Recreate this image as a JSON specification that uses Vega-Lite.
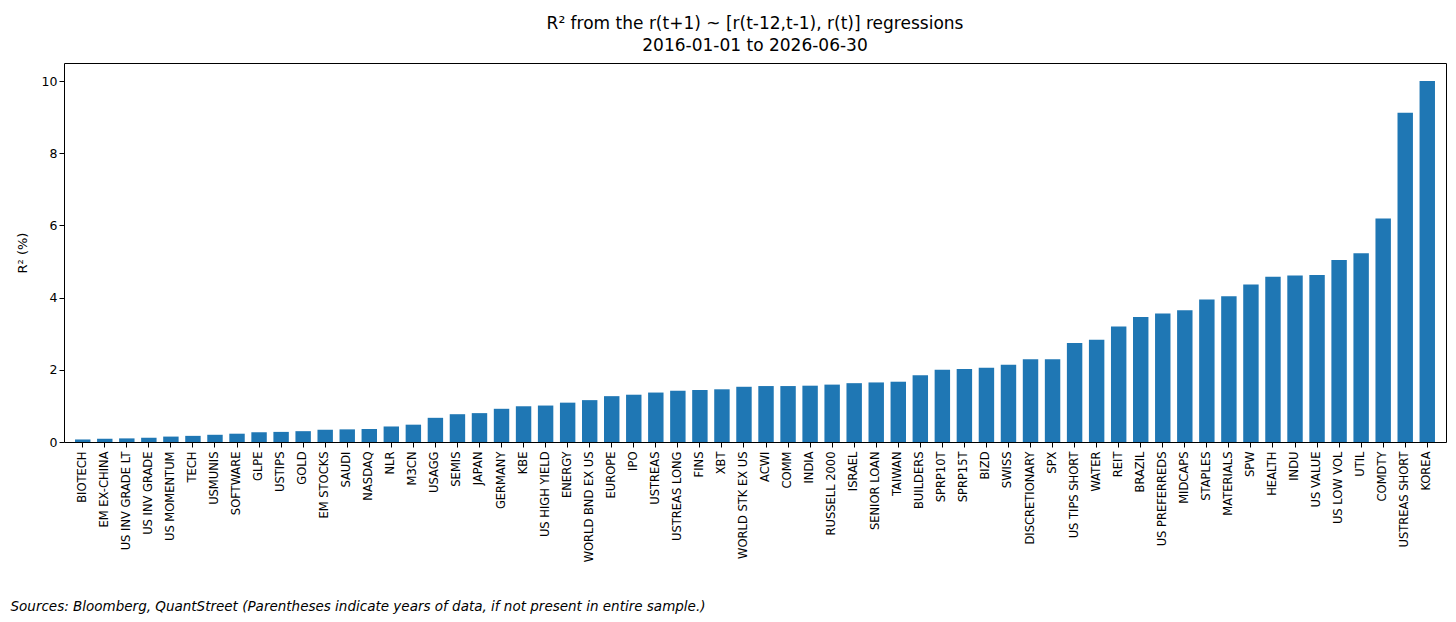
{
  "$schema": "https://vega.github.io/schema/vega-lite/v6.json",
  "width": 1382,
  "height": 379,
  "autosize": "none",
  "padding": {"left": 64, "top": 63, "right": 10, "bottom": 180},
  "background": "white",
  "config": {
    "font": "DejaVu Sans",
    "view": {"stroke": "black", "strokeWidth": 1},
    "axis": {"domain": false, "grid": false, "tickColor": "black", "labelColor": "black", "titleColor": "black", "titleFontWeight": "normal"}
  },
  "title": {
    "text": ["R² from the r(t+1) ~ [r(t-12,t-1), r(t)] regressions", "2016-01-01 to 2026-06-30"],
    "fontSize": 17, "fontWeight": "normal", "color": "black", "offset": 8, "lineHeight": 22
  },
  "data": {
    "values": [
      {"name": "BIOTECH", "r2": 0.07},
      {"name": "EM EX-CHINA", "r2": 0.09},
      {"name": "US INV GRADE LT", "r2": 0.1},
      {"name": "US INV GRADE", "r2": 0.12},
      {"name": "US MOMENTUM", "r2": 0.15},
      {"name": "TECH", "r2": 0.17},
      {"name": "USMUNIS", "r2": 0.2},
      {"name": "SOFTWARE", "r2": 0.23},
      {"name": "GLPE", "r2": 0.27},
      {"name": "USTIPS", "r2": 0.28},
      {"name": "GOLD", "r2": 0.3},
      {"name": "EM STOCKS", "r2": 0.34},
      {"name": "SAUDI", "r2": 0.35},
      {"name": "NASDAQ", "r2": 0.36},
      {"name": "NLR", "r2": 0.43},
      {"name": "M3CN", "r2": 0.48},
      {"name": "USAGG", "r2": 0.67},
      {"name": "SEMIS", "r2": 0.77},
      {"name": "JAPAN", "r2": 0.8},
      {"name": "GERMANY", "r2": 0.92},
      {"name": "KBE", "r2": 0.99},
      {"name": "US HIGH YIELD", "r2": 1.01},
      {"name": "ENERGY", "r2": 1.09},
      {"name": "WORLD BND EX US", "r2": 1.16},
      {"name": "EUROPE", "r2": 1.27},
      {"name": "IPO", "r2": 1.31},
      {"name": "USTREAS", "r2": 1.37},
      {"name": "USTREAS LONG", "r2": 1.42},
      {"name": "FINS", "r2": 1.44},
      {"name": "XBT", "r2": 1.46},
      {"name": "WORLD STK EX US", "r2": 1.53},
      {"name": "ACWI", "r2": 1.55},
      {"name": "COMM", "r2": 1.55},
      {"name": "INDIA", "r2": 1.56},
      {"name": "RUSSELL 2000", "r2": 1.59},
      {"name": "ISRAEL", "r2": 1.63},
      {"name": "SENIOR LOAN", "r2": 1.65},
      {"name": "TAIWAN", "r2": 1.67},
      {"name": "BUILDERS", "r2": 1.85},
      {"name": "SPRP10T", "r2": 2.0},
      {"name": "SPRP15T", "r2": 2.02},
      {"name": "BIZD", "r2": 2.06},
      {"name": "SWISS", "r2": 2.14},
      {"name": "DISCRETIONARY", "r2": 2.29},
      {"name": "SPX", "r2": 2.29},
      {"name": "US TIPS SHORT", "r2": 2.74},
      {"name": "WATER", "r2": 2.83},
      {"name": "REIT", "r2": 3.2},
      {"name": "BRAZIL", "r2": 3.46},
      {"name": "US PREFERREDS", "r2": 3.56},
      {"name": "MIDCAPS", "r2": 3.65},
      {"name": "STAPLES", "r2": 3.95},
      {"name": "MATERIALS", "r2": 4.04},
      {"name": "SPW", "r2": 4.36},
      {"name": "HEALTH", "r2": 4.58},
      {"name": "INDU", "r2": 4.61},
      {"name": "US VALUE", "r2": 4.63},
      {"name": "US LOW VOL", "r2": 5.04},
      {"name": "UTIL", "r2": 5.23},
      {"name": "COMDTY", "r2": 6.19},
      {"name": "USTREAS SHORT", "r2": 9.12},
      {"name": "KOREA", "r2": 10.0}
    ]
  },
  "mark": {"type": "bar", "color": "#1f77b4"},
  "encoding": {
    "x": {
      "field": "name", "type": "nominal", "sort": null,
      "scale": {"paddingInner": 0.3, "paddingOuter": 0.5},
      "axis": {
        "labelAngle": -90, "labelFontSize": 11.5, "labelPadding": 4,
        "title": "Sources: Bloomberg, QuantStreet             (Parentheses indicate years of data, if not present in entire sample.)",
        "titleFontStyle": "italic", "titleFontSize": 13.5, "titleAnchor": "start", "titleAlign": "left",
        "titleX": -54, "titleY": 157
      }
    },
    "y": {
      "field": "r2", "type": "quantitative",
      "scale": {"domain": [0, 10.5], "nice": false},
      "axis": {"values": [0, 2, 4, 6, 8, 10], "title": "R² (%)", "titleFontSize": 13, "labelFontSize": 12.5, "titlePadding": 12}
    }
  }
}
